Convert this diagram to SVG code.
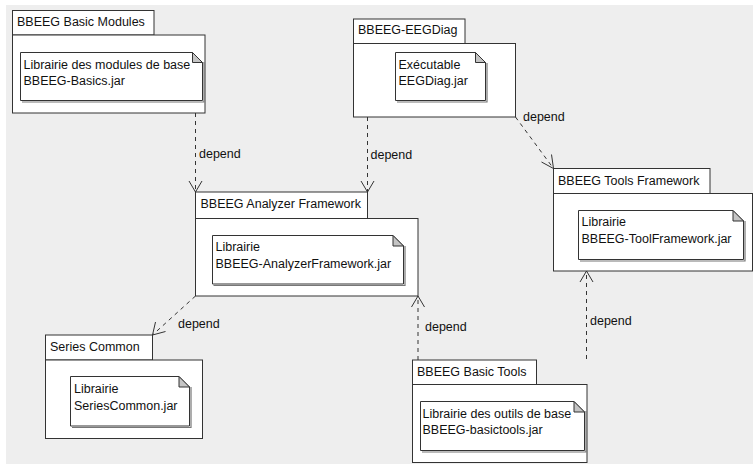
<svg xmlns="http://www.w3.org/2000/svg" width="753" height="464" viewBox="0 0 753 464">
<style>
.pkg{fill:#fff;stroke:#333;stroke-width:1}
.note{fill:#fff;stroke:#333;stroke-width:1}
.shadow{fill:none;stroke:#777;stroke-width:1.2}
.fold{fill:#c4c4c4;stroke:#333;stroke-width:1}
text{font-family:"Liberation Sans",Arial,sans-serif;font-size:12.5px;fill:#111}
.dep{fill:none;stroke:#333;stroke-width:1;stroke-dasharray:4,4}
.head{fill:none;stroke:#333;stroke-width:1}
</style>
<rect x="0" y="0" width="753" height="464" fill="#fff"/>
<rect x="6" y="5" width="747" height="459" fill="#eeeeee"/>

<g id="basic-modules">
<rect class="pkg" x="12.5" y="10.5" width="141.5" height="24.5"/>
<rect class="pkg" x="12.5" y="35" width="192.5" height="78"/>
<text x="17" y="26">BBEEG Basic Modules</text>
<polyline class="shadow" points="204,62 204,102 22,102"/>
<path class="note" d="M20.5,52.5 H192.5 L202.5,62.5 V100.5 H20.5 Z"/>
<path class="fold" d="M192.5,52.5 V62.5 H202.5 Z"/>
<text x="23.5" y="68.5">Librairie des modules de base</text>
<text x="23.5" y="85">BBEEG-Basics.jar</text>
</g>

<g id="eegdiag">
<rect class="pkg" x="353.5" y="19" width="111.5" height="24.5"/>
<rect class="pkg" x="353.5" y="43.5" width="162" height="73.5"/>
<text x="358" y="34">BBEEG-EEGDiag</text>
<polyline class="shadow" points="487,63 487,102 397,102"/>
<path class="note" d="M395.5,52.5 H475.5 L485.5,62.5 V100.5 H395.5 Z"/>
<path class="fold" d="M475.5,52.5 V62.5 H485.5 Z"/>
<text x="398.5" y="68.5">Exécutable</text>
<text x="398.5" y="85">EEGDiag.jar</text>
</g>

<g id="analyzer-framework">
<rect class="pkg" x="195.5" y="192" width="172" height="26.5"/>
<rect class="pkg" x="195.5" y="218.5" width="222.5" height="77.5"/>
<text x="200.5" y="208">BBEEG Analyzer Framework</text>
<polyline class="shadow" points="405,246 405,285.5 213.5,285.5"/>
<path class="note" d="M212.5,235.5 H393 L403.5,246 V284 H212.5 Z"/>
<path class="fold" d="M393,235.5 V246 H403.5 Z"/>
<text x="215.5" y="251">Librairie</text>
<text x="215.5" y="268">BBEEG-AnalyzerFramework.jar</text>
</g>

<g id="tools-framework">
<rect class="pkg" x="553.5" y="168.5" width="156.5" height="25"/>
<rect class="pkg" x="553.5" y="193.5" width="199" height="77.5"/>
<text x="558" y="184.5">BBEEG Tools Framework</text>
<polyline class="shadow" points="745,221 745,261 580,261"/>
<path class="note" d="M578.5,210.5 H733 L743.5,221 V259.5 H578.5 Z"/>
<path class="fold" d="M733,210.5 V221 H743.5 Z"/>
<text x="581.5" y="226">Librairie</text>
<text x="581.5" y="243">BBEEG-ToolFramework.jar</text>
</g>

<g id="series-common">
<rect class="pkg" x="45.5" y="335" width="107" height="25"/>
<rect class="pkg" x="45.5" y="360" width="157" height="78.5"/>
<text x="50" y="351">Series Common</text>
<polyline class="shadow" points="191,387 191,427.5 72,427.5"/>
<path class="note" d="M70.5,376.5 H179 L189.5,387 V426 H70.5 Z"/>
<path class="fold" d="M179,376.5 V387 H189.5 Z"/>
<text x="74" y="392.5">Librairie</text>
<text x="74" y="409.5">SeriesCommon.jar</text>
</g>

<g id="basic-tools">
<rect class="pkg" x="412.5" y="360" width="124" height="24.5"/>
<rect class="pkg" x="412.5" y="384.5" width="174.5" height="78"/>
<text x="417" y="376">BBEEG Basic Tools</text>
<polyline class="shadow" points="586,411 586,452 422,452"/>
<path class="note" d="M420.5,401.5 H574 L584.5,412 V450.5 H420.5 Z"/>
<path class="fold" d="M574,401.5 V412 H584.5 Z"/>
<text x="422.5" y="417.5">Librairie des outils de base</text>
<text x="422.5" y="434">BBEEG-basictools.jar</text>
</g>

<g id="connectors">
<line class="dep" x1="195.5" y1="113" x2="195.5" y2="192"/>
<polyline class="head" points="189,181 195.5,192 202,181"/>
<text x="199" y="158">depend</text>

<line class="dep" x1="367.5" y1="117" x2="367.5" y2="192"/>
<polyline class="head" points="361,181 367.5,192 374,181"/>
<text x="370.5" y="158.5">depend</text>

<line class="dep" x1="515.5" y1="117" x2="553.5" y2="168.5"/>
<polyline class="head" points="541.5,162 553.5,168.5 551.5,154.5"/>
<text x="523" y="121">depend</text>

<line class="dep" x1="195.5" y1="296" x2="152.5" y2="335"/>
<polyline class="head" points="155.5,322 152.5,335 165.5,331.5"/>
<text x="178" y="328">depend</text>

<line class="dep" x1="418" y1="360" x2="418" y2="296"/>
<polyline class="head" points="411.5,307 418,296 424.5,307"/>
<text x="425" y="330.5">depend</text>

<line class="dep" x1="586.5" y1="359" x2="586.5" y2="271"/>
<polyline class="head" points="580,282 586.5,271 593,282"/>
<text x="590" y="325">depend</text>
</g>
</svg>
